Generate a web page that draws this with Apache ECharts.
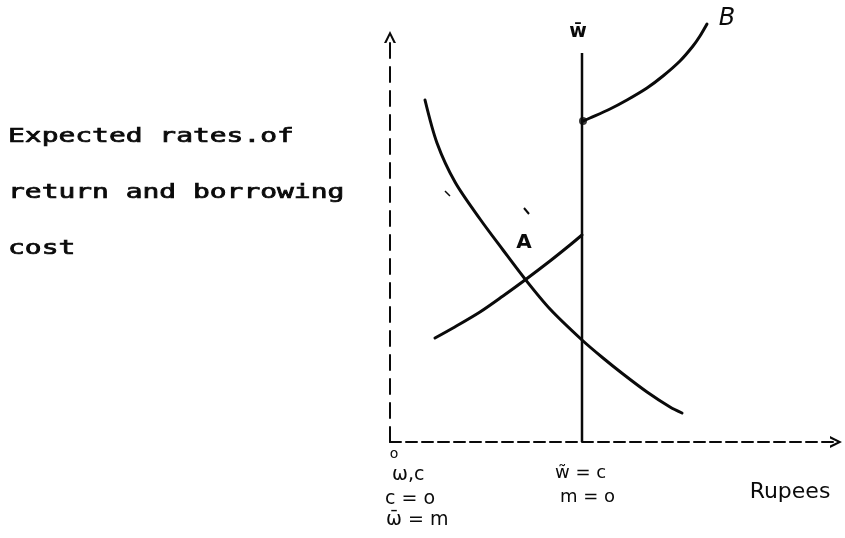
<!DOCTYPE html>
<html>
<head>
<meta charset="utf-8">
<script src="https://cdn.jsdelivr.net/npm/echarts@6/dist/echarts.min.js"></script>
<style>html,body{margin:0;padding:0;background:#fff;}#c{width:845px;height:538px;}</style>
</head>
<body>
<div id="c"></div>
<script>
// ---- data (arbitrary "Rupees" units on x, rate units on y) ----
var marginalReturn = [[3.5,34.2],[4.7,29.9],[6.5,26.0],[9.0,22.3],[11.3,19.2],[13.5,16.3],[16.0,13.3],[19.2,10.2],[21.3,8.4],[23.3,6.8],[25.7,5.0],[28.0,3.5],[29.2,2.9]];
var borrowCostA = [[4.5,10.4],[6.3,11.4],[9.0,13.0],[11.3,14.6],[13.5,16.2],[16.0,18.1],[18.0,19.7],[19.2,20.7]];
var borrowCostB = [[19.3,32.1],[20.0,32.4],[22.0,33.3],[23.7,34.2],[25.7,35.4],[27.3,36.6],[29.0,38.1],[30.3,39.6],[31.0,40.6],[31.7,41.8]];
var wealthLimit = [[19.2,0],[19.2,38.9]];
var kinkPoint = [[19.3,32.1]];
var yTitleLines = ["Expected rates.of", "return and borrowing", "cost"];
var originLabels = ["o", "\u03c9,c", "c = o", "\u03c9\u0304 = m"];
var limitLabels = ["w\u0303 = c", "m = o"];
var xTitle = "Rupees";
var topLabel = "w\u0304";

var chart = echarts.init(document.getElementById('c'));
var ink = '#0a0a0a';
var hand = '"DejaVu Sans", sans-serif';
var arrowUp = 'path://M0,12 L6,0 L12,12 L9.6,12 L6,4.6 L2.4,12 Z';

function lineSeries(d, w) {
  return {type:'line', data:d, smooth:0.3, symbol:'none', clip:false,
    lineStyle:{color:ink, width:w, cap:'round', join:'round'}, silent:true, z:3};
}

var graphics = [];
yTitleLines.forEach(function(t, i){
  graphics.push({type:'text', x:8, y:137 + i*56, scaleX:1.47,
    style:{text:t, font:'19px "DejaVu Sans Mono", monospace', fill:ink, stroke:ink, lineWidth:0.7, textAlign:'left', textVerticalAlign:'middle'}});
});
var oy = [454, 475, 499, 520], ox = [394, 392, 385, 386];
originLabels.forEach(function(t, i){
  graphics.push({type:'text', x:ox[i], y:oy[i],
    style:{text:t, font:(i===0?'14px ':'19px ')+hand, fill:ink, textAlign:i===0?'center':'left', textVerticalAlign:'middle'}});
});
var ly = [473, 497], lx = [555, 560];
limitLabels.forEach(function(t, i){
  graphics.push({type:'text', x:lx[i], y:ly[i],
    style:{text:t, font:'18px '+hand, fill:ink, textAlign:'left', textVerticalAlign:'middle'}});
});
graphics.push({type:'text', x:790, y:492, style:{text:xTitle, font:'22px '+hand, fill:ink, textAlign:'center', textVerticalAlign:'middle'}});
graphics.push({type:'text', x:578, y:32, style:{text:topLabel, font:'bold 19px '+hand, fill:ink, textAlign:'center', textVerticalAlign:'middle'}});
graphics.push({type:'text', x:524, y:243, style:{text:'A', font:'bold 20px '+hand, fill:ink, textAlign:'center', textVerticalAlign:'middle'}});
graphics.push({type:'text', x:727, y:19, style:{text:'B', font:'italic 24px '+hand, fill:ink, textAlign:'center', textVerticalAlign:'middle'}});
// small pen strokes
graphics.push({type:'line', shape:{x1:524, y1:208, x2:529, y2:214}, style:{stroke:ink, lineWidth:2}});
graphics.push({type:'line', shape:{x1:445, y1:191, x2:450, y2:196}, style:{stroke:ink, lineWidth:1.5}});

chart.setOption({
  animation:false,
  backgroundColor:'#fff',
  grid:{left:390, right:9, top:37, bottom:96},
  xAxis:{type:'value', min:0, max:44.6,
    axisLine:{show:true, symbol:['none', arrowUp], symbolSize:[12,14], symbolOffset:[0,0],
      lineStyle:{color:ink, width:2, type:[11,5]}},
    axisTick:{show:false}, axisLabel:{show:false}, splitLine:{show:false}},
  yAxis:{type:'value', min:0, max:40.5,
    axisLine:{show:true, symbol:['none', arrowUp], symbolSize:[12,14],
      lineStyle:{color:ink, width:2, type:[15,9]}},
    axisTick:{show:false}, axisLabel:{show:false}, splitLine:{show:false}},
  graphic:graphics,
  series:[
    lineSeries(marginalReturn, 3),
    lineSeries(borrowCostA, 3),
    lineSeries(borrowCostB, 3),
    {type:'line', data:wealthLimit, symbol:'none', clip:false, lineStyle:{color:ink, width:2.5}, silent:true, z:3},
    {type:'scatter', data:kinkPoint, symbolSize:8, itemStyle:{color:ink}, silent:true, z:4}
  ]
});
</script>
</body>
</html>
